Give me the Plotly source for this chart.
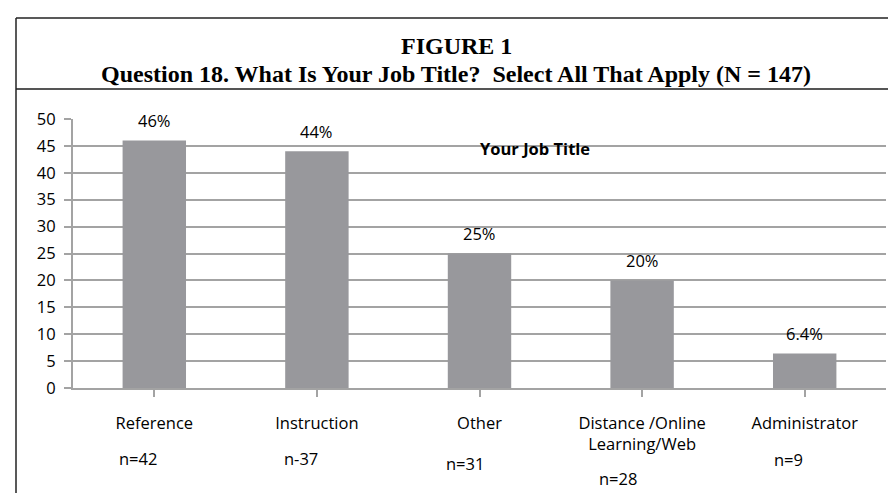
import plotly.graph_objects as go

categories = ["Reference", "Instruction", "Other", "Distance /Online<br>Learning/Web", "Administrator"]
values = [46, 44, 25, 20, 6.4]
pct_labels = ["46%", "44%", "25%", "20%", "6.4%"]
n_labels = ["n=42", "n-37", "n=31", "n=28", "n=9"]
n_xoffset = [-0.1, -0.1, -0.09, -0.15, -0.1]
n_yshift = [-70, -70, -75, -90, -71]
y_ticks = [0, 5, 10, 15, 20, 25, 30, 35, 40, 45, 50]

W, H = 896, 493
L, R, T, B = 65, 878, 111, 380
pw, ph = R - L, B - T

def px_x(p):
    return (p - L) / pw

def px_y(p):
    return (B - p) / ph

GRID = "#a3a3a3"
FONT = "Open Sans"
FS = 16.5

fig = go.Figure()
fig.add_trace(go.Bar(
    x=list(range(len(categories))), y=values,
    marker=dict(color="#98989c", line=dict(width=0)),
    width=0.39, hoverinfo="skip",
))

annotations = []
for i, (v, t) in enumerate(zip(values, pct_labels)):
    annotations.append(dict(x=i, y=v, xref="x", yref="y", text=t, showarrow=False,
                            yshift=20, font=dict(family=FONT, size=FS, color="black")))
for i, (t, dx, dy) in enumerate(zip(n_labels, n_xoffset, n_yshift)):
    annotations.append(dict(x=i + dx, y=0, xref="x", yref="y", text=t, showarrow=False,
                            yshift=dy, font=dict(family=FONT, size=FS, color="black")))
annotations.append(dict(x=px_x(527), y=px_y(127), xref="paper", yref="paper",
                        text="<b>Your Job Title</b>", showarrow=False,
                        font=dict(family=FONT, size=FS, color="black")))
annotations.append(dict(x=px_x(448), y=px_y(23), xref="paper", yref="paper",
                        text="<b>FIGURE 1</b>", showarrow=False,
                        font=dict(family="Liberation Serif", size=24, color="black")))
annotations.append(dict(x=px_x(448), y=px_y(51), xref="paper", yref="paper",
                        text="<b>Question 18. What Is Your Job Title?  Select All That Apply (N = 147)</b>",
                        showarrow=False,
                        font=dict(family="Liberation Serif", size=24, color="black")))

shapes = [
    dict(type="line", xref="paper", yref="paper", x0=px_x(8), x1=px_x(W + 5), y0=px_y(10), y1=px_y(10),
         line=dict(color="#222222", width=1.5)),
    dict(type="line", xref="paper", yref="paper", x0=px_x(8), x1=px_x(W + 5), y0=px_y(81), y1=px_y(81),
         line=dict(color="#555555", width=2)),
    dict(type="line", xref="paper", yref="paper", x0=px_x(8), x1=px_x(8), y0=px_y(10), y1=px_y(H + 5),
         line=dict(color="#222222", width=1.5)),
]

fig.update_layout(
    width=W, height=H,
    margin=dict(l=L, r=W - R, t=T, b=H - B, autoexpand=False),
    paper_bgcolor="white", plot_bgcolor="white",
    showlegend=False,
    bargap=0.61,
    annotations=annotations,
    shapes=shapes,
    xaxis=dict(
        tickmode="array", tickvals=list(range(len(categories))), ticktext=categories,
        range=[-0.5, len(categories) - 0.5],
        showgrid=False, showline=True, linecolor=GRID, linewidth=2,
        ticks="outside", tickson="boundaries", ticklen=7, tickcolor=GRID, tickwidth=2,
        tickfont=dict(family=FONT, size=FS, color="black"),
        ticklabelstandoff=12,
        zeroline=False,
    ),
    yaxis=dict(
        range=[0, 50], tickvals=y_ticks,
        showgrid=True, gridcolor=GRID, gridwidth=2,
        showline=True, linecolor=GRID, linewidth=2,
        ticks="outside", ticklen=7, tickcolor=GRID, tickwidth=2,
        tickfont=dict(family=FONT, size=FS, color="black"),
        ticklabelstandoff=5,
        zeroline=False,
    ),
)

fig.write_html("out.html")
